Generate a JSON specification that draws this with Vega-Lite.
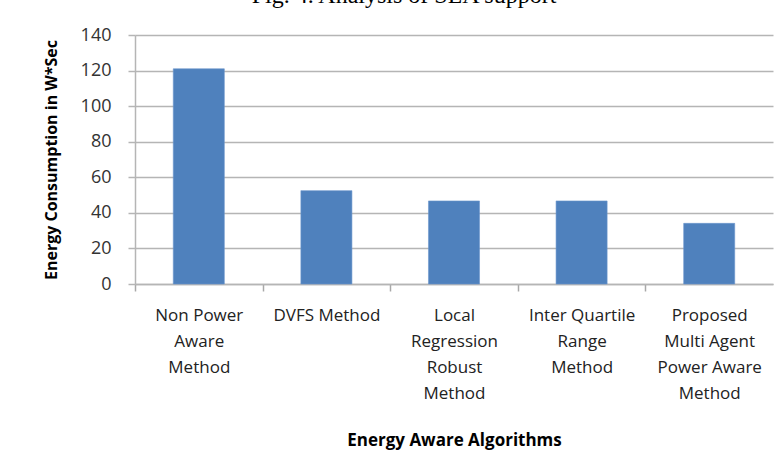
{
  "$schema": "https://vega.github.io/schema/vega-lite/v6.json",
  "width": 638,
  "height": 249,
  "autosize": "none",
  "padding": {"left": 135, "top": 35, "right": 9, "bottom": 191},
  "background": "white",
  "title": {
    "text": "Fig. 4. Analysis of SLA support",
    "font": "Liberation Serif",
    "fontSize": 24,
    "fontWeight": "normal",
    "color": "#000000",
    "anchor": "middle",
    "frame": "group",
    "baseline": "alphabetic",
    "offset": 10,
    "dy": 11,
    "dx": -50
  },
  "data": {
    "values": [
      {"method": "Non Power Aware Method", "energy": 121},
      {"method": "DVFS Method", "energy": 52.5},
      {"method": "Local Regression Robust Method", "energy": 46.7},
      {"method": "Inter Quartile Range Method", "energy": 46.7},
      {"method": "Proposed Multi Agent Power Aware Method", "energy": 34.1}
    ]
  },
  "mark": {"type": "bar", "color": "#4f81bd", "stroke": "#6a96cc", "strokeWidth": 0.6},
  "encoding": {
    "x": {
      "field": "method",
      "type": "nominal",
      "sort": null,
      "scale": {"paddingInner": 0.6, "paddingOuter": 0.3},
      "axis": {
        "title": "Energy Aware Algorithms",
        "titleFont": "Open Sans",
        "titleFontSize": 17,
        "titleFontWeight": "bold",
        "titleColor": "#000000",
        "titlePadding": 31,
        "labelAngle": 0,
        "labelFont": "Open Sans",
        "labelFontSize": 17,
        "labelColor": "#222222",
        "labelLineHeight": 26,
        "labelPadding": 16,
        "labelBaseline": "top",
        "labelOffset": 63.8,
        "labelExpr": "datum.value == 'Non Power Aware Method' ? ['Non Power','Aware','Method'] : datum.value == 'DVFS Method' ? ['DVFS Method'] : datum.value == 'Local Regression Robust Method' ? ['Local','Regression','Robust','Method'] : datum.value == 'Inter Quartile Range Method' ? ['Inter Quartile','Range','Method'] : ['Proposed','Multi Agent','Power Aware','Method']",
        "domainColor": "#b5b5b5",
        "domainWidth": 1.5,
        "tickColor": "#a8a8a8",
        "tickWidth": 1.5,
        "tickSize": 7,
        "tickOffset": -63.8,
        "grid": false
      }
    },
    "y": {
      "field": "energy",
      "type": "quantitative",
      "scale": {"domain": [0, 140]},
      "axis": {
        "title": "Energy Consumption in W*Sec",
        "titleFont": "Open Sans",
        "titleFontSize": 16,
        "titleFontWeight": "bold",
        "titleColor": "#000000",
        "titlePadding": 21,
        "values": [0, 20, 40, 60, 80, 100, 120, 140],
        "labelFont": "Open Sans",
        "labelFontSize": 18,
        "labelColor": "#333333",
        "labelPadding": 17,
        "domainColor": "#b5b5b5",
        "domainWidth": 1.5,
        "tickColor": "#b5b5b5",
        "tickWidth": 1.5,
        "tickSize": 7,
        "grid": true,
        "gridColor": "#b5b5b5",
        "gridWidth": 1.5
      }
    }
  },
  "config": {"view": {"stroke": null}}
}
